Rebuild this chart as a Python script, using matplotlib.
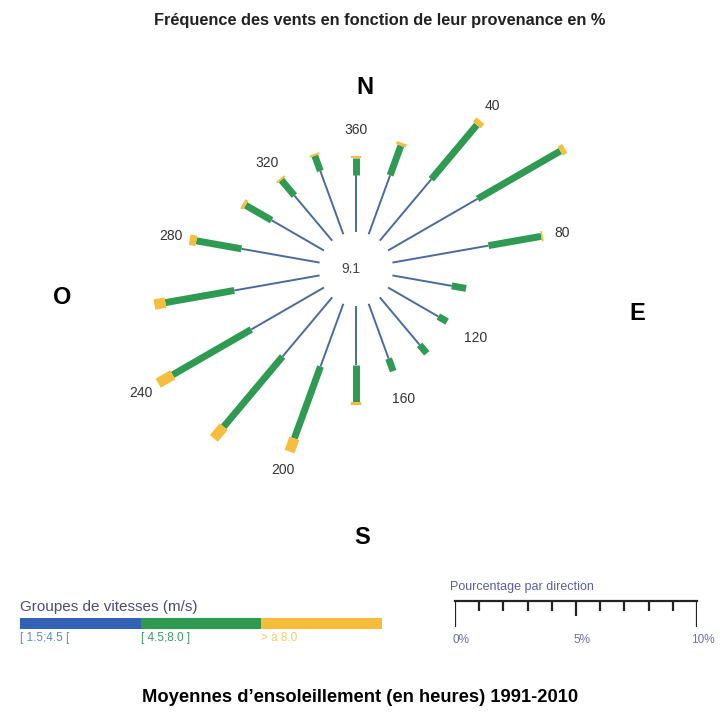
import numpy as np
import matplotlib
matplotlib.use("Agg")
import matplotlib.pyplot as plt

plt.rcParams['font.family'] = ['Liberation Sans', 'DejaVu Sans']

# Directions de provenance (degrés) et fréquences (%) par groupe de vitesse
directions = [20, 40, 60, 80, 100, 120, 140, 160, 180,
              200, 220, 240, 260, 280, 300, 320, 340, 360]
freq_low = [2.59, 3.31, 4.27, 4.03, 2.49, 2.40, 2.56, 2.41, 2.43,
            2.76, 3.19, 3.47, 3.58, 3.28, 2.50, 2.43, 2.78, 2.36]      # [1.5;4.5[
freq_mid = [1.30, 2.93, 3.95, 2.21, 0.60, 0.42, 0.46, 0.55, 1.53,
            3.16, 3.79, 3.75, 2.89, 1.89, 1.24, 0.84, 0.67, 0.71]      # [4.5;8.0]
freq_high = [0.13, 0.23, 0.21, 0.07, 0.0, 0.0, 0.0, 0.0, 0.13,
             0.58, 0.63, 0.69, 0.46, 0.28, 0.13, 0.08, 0.08, 0.08]     # > 8.0
label_dirs = [40, 80, 120, 160, 200, 240, 280, 320, 360]
calm = "9.1"

speed_groups = ["[ 1.5;4.5 [", "[ 4.5;8.0 ]", "> à 8.0"]
scale_ticks = list(range(0, 11))
scale_labels = {0: "0%", 5: "5%", 10: "10%"}

BLUE = "#4a6b9e"
GREEN = "#2e9a52"
YELLOW = "#f5be3c"
legend_colors = ["#3162b5", "#2e9a52", "#f7bd3a"]
legend_text_colors = ["#5b8fc2", "#3f9a60", "#f0cf6a"]

W = H = 720.0
fig = plt.figure(figsize=(7.2, 7.2), dpi=100)


def fx(px):
    return px / W


def fy(py):
    return 1 - py / H


# ---- rose des vents ----
px_per_unit = 24.2
hole = 37 / px_per_unit
rmax = 8.5
cx, cy = 356, 269
rad_px = (rmax + hole) * px_per_unit
ax = fig.add_axes([fx(cx - rad_px), fy(cy + rad_px), 2 * rad_px / W, 2 * rad_px / H],
                  projection='polar')
ax.set_theta_zero_location('N')
ax.set_theta_direction(-1)
ax.set_rorigin(-hole)
ax.set_ylim(0, rmax)
ax.axis('off')

for d, lo, mid, hi in zip(directions, freq_low, freq_mid, freq_high):
    th = np.deg2rad(d)
    ax.plot([th, th], [0, lo], color=BLUE, lw=1.4, solid_capstyle='butt', clip_on=False)
    ax.plot([th, th], [lo, lo + mid], color=GREEN, lw=5, solid_capstyle='butt', clip_on=False)
    if hi > 0:
        ax.plot([th, th], [lo + mid, lo + mid + hi], color=YELLOW, lw=7.5,
                solid_capstyle='butt', clip_on=False)

for d in label_dirs:
    i = directions.index(d)
    tot = freq_low[i] + freq_mid[i] + freq_high[i]
    r = max(tot + 0.8, 4.2)
    ax.text(np.deg2rad(d), r, str(d), ha='center', va='center', fontsize=10, color='#333333')

ax.text(0.49, 0.5, calm, transform=ax.transAxes, ha='center', va='center',
        fontsize=10, color='#444444')

# ---- titres et points cardinaux ----
fig.text(fx(380), fy(20), "Fréquence des vents en fonction de leur provenance en %",
         ha='center', va='center', fontsize=11.8, fontweight='bold', color='#222222')
for lab, x, y in [("N", 365, 87), ("S", 362, 537), ("O", 62, 298), ("E", 637, 313)]:
    fig.text(fx(x), fy(y), lab, ha='center', va='center', fontsize=17, fontweight='bold')

fig.text(fx(360), fy(697), "Moyennes d’ensoleillement (en heures) 1991-2010",
         ha='center', va='center', fontsize=13.2, fontweight='bold')

# ---- légende des vitesses ----
fig.text(fx(20), fy(607), "Groupes de vitesses (m/s)", ha='left', va='center',
         fontsize=11, color='#4b4a7d')
lax = fig.add_axes([fx(20), fy(629), (382 - 20) / W, 11 / H])
lax.barh([0] * 3, [1] * 3, left=range(3), color=legend_colors, height=1)
lax.set_xlim(0, 3)
lax.set_ylim(-0.5, 0.5)
lax.axis('off')
for k, (txt, c) in enumerate(zip(speed_groups, legend_text_colors)):
    fig.text(fx(20 + k * 120.7), fy(638), txt, ha='left', va='center', fontsize=8.5, color=c)

# ---- échelle des pourcentages ----
fig.text(fx(450), fy(587), "Pourcentage par direction", ha='left', va='center',
         fontsize=9, color='#5b5fa0')
sax = fig.add_axes([fx(455), fy(630), (697 - 455) / W, 30 / H])
sax.set_xlim(0, 10)
sax.set_ylim(-1, 0.05)
sax.axis('off')
sax.plot([0, 10], [0, 0], color='#222222', lw=1.6, clip_on=False)
tick_len = [0.9 if t in (0, 10) else 0.5 if t == 5 else 0.33 for t in scale_ticks]
sax.vlines(scale_ticks, [-l for l in tick_len], 0, color='#222222', lw=1.6)
for t, s in scale_labels.items():
    fig.text(fx(455 + t * 24.2 + 6), fy(640), s, ha='center', va='center',
             fontsize=8.5, color='#6a70a8')

fig.savefig("out.png", dpi=100)
